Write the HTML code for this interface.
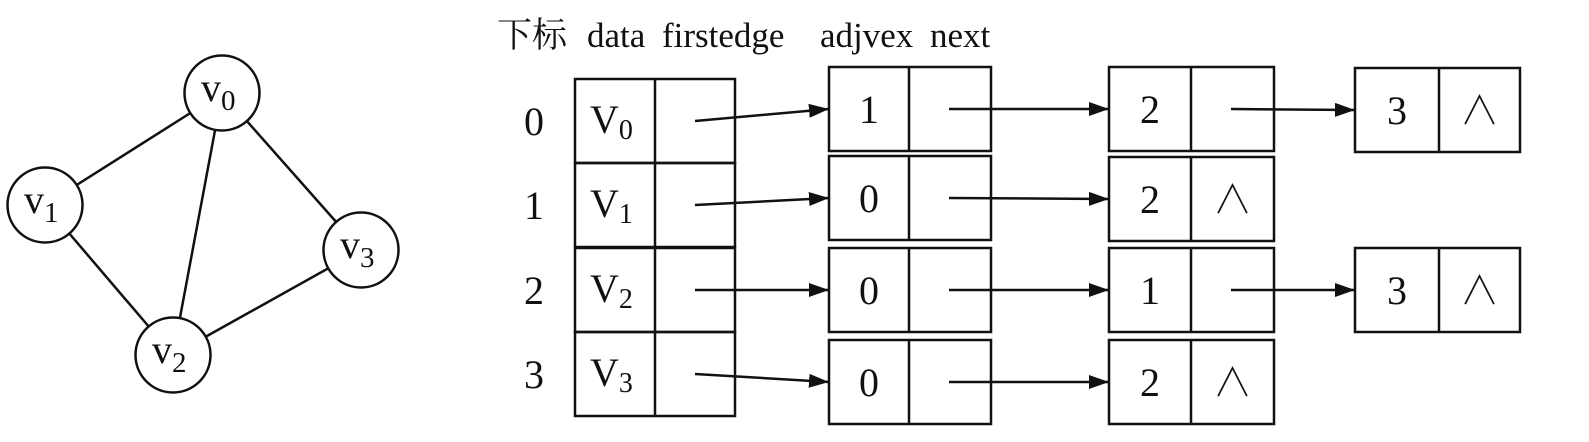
<!DOCTYPE html>
<html><head><meta charset="utf-8"><style>
html,body{margin:0;padding:0;background:#fff;}
svg{display:block;}
text{font-family:"Liberation Serif","Noto Serif CJK SC",serif;fill:#111;}
</style></head><body>
<svg width="1589" height="442" viewBox="0 0 1589 442">
<defs><marker id="ah" markerWidth="20" markerHeight="14" refX="20" refY="7" orient="auto" markerUnits="userSpaceOnUse"><path d="M0,0 L20,7 L0,14 z" fill="#111"/></marker></defs>
<g stroke="#111" stroke-width="2.5">
<line x1="222" y1="93" x2="45" y2="205"/><line x1="222" y1="93" x2="173" y2="355"/>
<line x1="222" y1="93" x2="361" y2="250"/><line x1="45" y1="205" x2="173" y2="355"/>
<line x1="173" y1="355" x2="361" y2="250"/>
</g>
<g id="verts"></g>
<g id="table"></g>
<text x="497" y="47" font-size="35">下标</text>
<text x="587" y="47" font-size="35">data</text>
<text x="662" y="47" font-size="35">firstedge</text>
<text x="820" y="47" font-size="35">adjvex</text>
<text x="930" y="47" font-size="35">next</text>
</svg>
<script>
const NS='http://www.w3.org/2000/svg';
const vertexNames=['0','1','2','3'];
const vertexPos=[[222,93],[45,205],[173,355],[361,250]];
const adjLists=[[1,2,3],[0,2],[0,1,3],[0,2]];
function mk(tag,attrs,parent,txt){const e=document.createElementNS(NS,tag);for(const k in attrs)e.setAttribute(k,attrs[k]);if(txt!==undefined)e.textContent=txt;parent.appendChild(e);return e;}
const vg=document.getElementById('verts');
vertexNames.forEach((n,i)=>{
 const [cx,cy]=vertexPos[i];
 const c=mk('circle',{cx:cx,cy:cy,r:37.5,fill:'#fff',stroke:'#111','stroke-width':2.5},vg);
 
 
 const t=mk('text',{x:cx-21,y:cy+8,'font-size':40},vg,'v');
 
 
 mk('tspan',{'font-size':29,dy:9},t,n);
});
const tg=document.getElementById('table');
const rowTops=[79,163,248,332],rowH=84;
const colX=[829,1109,1355],cellW=[80,82,84],nodeW=[162,165,165];
const nodeTops=[[67,67,68],[156,157],[248,248,248],[340,340]];
vertexNames.forEach((n,i)=>{
 const y=rowTops[i];
 const r=mk('rect',{x:575,y:y,width:160,height:rowH,fill:'none',stroke:'#111','stroke-width':2.5},tg);
 
 
 mk('line',{x1:655,y1:y,x2:655,y2:y+rowH,stroke:'#111','stroke-width':2.5},tg);
 const idx=mk('text',{x:524,y:y+56,'font-size':40},tg,n);
 
 
 const vt=mk('text',{x:590,y:y+54,'font-size':40},tg,'V');
 
 
 mk('tspan',{'font-size':28,dy:6},vt,n);
 let prevX=695,prevY=y+42;
 adjLists[i].forEach((a,j)=>{
  const nx=colX[j],ny=nodeTops[i][j],w=nodeW[j],h=84,cy=ny+h/2;
  const ar=mk('line',{x1:prevX,y1:prevY,x2:nx,y2:cy,stroke:'#111','stroke-width':2.5,'marker-end':'url(#ah)'},tg);
  
  
  const nr=mk('rect',{x:nx,y:ny,width:w,height:h,fill:'none',stroke:'#111','stroke-width':2.5},tg);
  
  
  mk('line',{x1:nx+cellW[j],y1:ny,x2:nx+cellW[j],y2:ny+h,stroke:'#111','stroke-width':2.5},tg);
  const at=mk('text',{x:nx+cellW[j]/2,y:cy+14,'font-size':40,'text-anchor':'middle'},tg,String(a));
  
  
  if(j===adjLists[i].length-1){
   const nt=mk('text',{x:nx+cellW[j]+(w-cellW[j])/2,y:cy+14,'font-size':40,'text-anchor':'middle'},tg,'∧');
   
   
  }
  prevX=nx+cellW[j]+40;prevY=cy;
 });
});
</script>
</body></html>
